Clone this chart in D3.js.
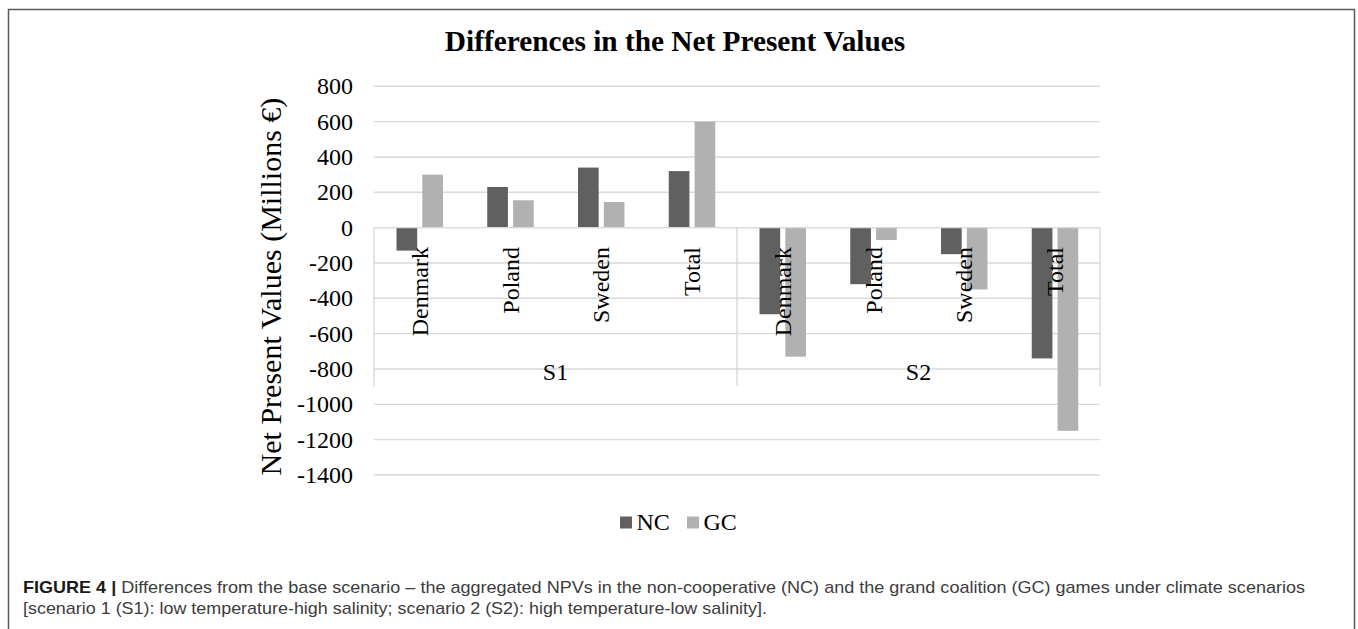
<!DOCTYPE html>
<html>
<head>
<meta charset="utf-8">
<script src="https://cdn.jsdelivr.net/npm/d3@7"></script>
<style>
  html, body { margin: 0; padding: 0; background: #fff; }
  svg { display: block; }
</style>
</head>
<body>
<svg id="chart" width="1358" height="629"></svg>
<script>
// ---- data ----
const groups = ["S1", "S2"];
const countries = ["Denmark", "Poland", "Sweden", "Total"];
const seriesNames = ["NC", "GC"];
const ncValues = [-130, 230, 340, 320, -490, -320, -150, -740];
const gcValues = [300, 155, 145, 600, -730, -70, -350, -1150];
const yTicks = [800, 600, 400, 200, 0, -200, -400, -600, -800, -1000, -1200, -1400];
const titleText = "Differences in the Net Present Values";
const yTitleText = "Net Present Values (Millions €)";
const captionBold = "FIGURE 4 |";
const captionLine1 = " Differences from the base scenario – the aggregated NPVs in the non-cooperative (NC) and the grand coalition (GC) games under climate scenarios";
const captionLine2 = "[scenario 1 (S1): low temperature-high salinity; scenario 2 (S2): high temperature-low salinity].";

// ---- build table ----
const cats = [];
groups.forEach((g, gi) => countries.forEach((c, ci) => {
  const i = gi * countries.length + ci;
  cats.push({ key: g + "|" + c, group: g, country: c, NC: ncValues[i], GC: gcValues[i] });
}));

const colors = { NC: "#606060", GC: "#b1b1b1" };
const serif = "'Liberation Serif', 'Times New Roman', serif";
const svg = d3.select("#chart");

// frame
svg.append("path")
  .attr("d", "M8.5,640 L8.5,9.5 L1354.5,9.5 L1354.5,640")
  .attr("fill", "none").attr("stroke", "#5a5a5a").attr("stroke-width", 1.5);

// scales
const x0 = d3.scaleBand().domain(cats.map(d => d.key)).range([374, 1100]).padding(0);
const x1 = d3.scaleBand().domain(seriesNames).range([22.5, 69]).paddingInner(0.2);
const y = d3.scaleLinear().domain([-1400, 800]).range([475, 86.3]);

// gridlines
svg.append("g").selectAll("line").data(yTicks).join("line")
  .attr("x1", 374).attr("x2", 1100)
  .attr("y1", d => y(d)).attr("y2", d => y(d))
  .attr("stroke", "#d9d9d9").attr("stroke-width", 1.4);

// y tick labels
svg.append("g").selectAll("text").data(yTicks).join("text")
  .attr("x", 353).attr("y", d => y(d)).attr("dy", "0.34em")
  .attr("text-anchor", "end")
  .attr("font-family", serif).attr("font-size", 24).attr("fill", "#000")
  .text(d => String(d));

// bars
const catG = svg.append("g").selectAll("g").data(cats).join("g")
  .attr("transform", d => `translate(${x0(d.key)},0)`);
catG.selectAll("rect").data(d => seriesNames.map(s => ({ s, v: d[s] }))).join("rect")
  .attr("x", d => x1(d.s))
  .attr("width", x1.bandwidth())
  .attr("y", d => y(Math.max(0, d.v)))
  .attr("height", d => Math.abs(y(d.v) - y(0)))
  .attr("fill", d => colors[d.s]);

// x axis line (zero) and category separators
svg.append("line").attr("x1", 374).attr("x2", 1100).attr("y1", y(0)).attr("y2", y(0))
  .attr("stroke", "#d9d9d9").attr("stroke-width", 1.4);
const groupEdges = [0, countries.length, cats.length];
svg.append("g").selectAll("line").data(groupEdges).join("line")
  .attr("x1", d => d < cats.length ? x0(cats[d].key) : 1100)
  .attr("x2", d => d < cats.length ? x0(cats[d].key) : 1100)
  .attr("y1", y(0)).attr("y2", 386)
  .attr("stroke", "#d9d9d9").attr("stroke-width", 1.4);

// category labels (rotated)
svg.append("g").selectAll("text").data(cats).join("text")
  .attr("transform", d => `translate(${x0(d.key) + x0.bandwidth() / 2},247) rotate(-90)`)
  .attr("dy", "0.35em")
  .attr("text-anchor", "end")
  .attr("font-family", serif).attr("font-size", 24).attr("fill", "#000")
  .text(d => d.country);

// group labels
svg.append("g").selectAll("text").data(groups).join("text")
  .attr("x", g => {
    const first = cats.find(c => c.group === g), last = cats.filter(c => c.group === g).pop();
    return (x0(first.key) + x0(last.key) + x0.bandwidth()) / 2;
  })
  .attr("y", 380)
  .attr("text-anchor", "middle")
  .attr("font-family", serif).attr("font-size", 24).attr("fill", "#000")
  .text(g => g);

// title
svg.append("text")
  .attr("x", 675).attr("y", 50.5).attr("text-anchor", "middle")
  .attr("font-family", serif).attr("font-size", 29.3).attr("font-weight", "bold").attr("fill", "#000")
  .text(titleText);

// y axis title
svg.append("text")
  .attr("transform", "translate(281,286.5) rotate(-90)")
  .attr("text-anchor", "middle")
  .attr("font-family", serif).attr("font-size", 30).attr("fill", "#000")
  .text(yTitleText);

// legend
const leg = svg.append("g").selectAll("g").data(seriesNames).join("g")
  .attr("transform", (d, i) => `translate(${620 + i * 67},0)`);
leg.append("rect").attr("x", 0).attr("y", 516.5).attr("width", 12).attr("height", 12)
  .attr("fill", d => colors[d]);
leg.append("text").attr("x", 16.5).attr("y", 529.5)
  .attr("font-family", serif).attr("font-size", 24).attr("fill", "#000")
  .text(d => d);

// caption
const sans = "'Liberation Sans', Arial, Helvetica, sans-serif";
const cap1 = svg.append("text").attr("x", 23).attr("y", 593)
  .attr("font-family", sans).attr("font-size", 17).attr("fill", "#3c3c3c");
cap1.append("tspan").attr("font-weight", "bold").attr("fill", "#1a1a1a").text(captionBold);
cap1.append("tspan").text(captionLine1);
cap1.attr("textLength", 1282).attr("lengthAdjust", "spacingAndGlyphs");
svg.append("text").attr("x", 23).attr("y", 614)
  .attr("font-family", sans).attr("font-size", 17).attr("fill", "#3c3c3c")
  .attr("textLength", 744).attr("lengthAdjust", "spacingAndGlyphs")
  .text(captionLine2);
</script>
</body>
</html>
